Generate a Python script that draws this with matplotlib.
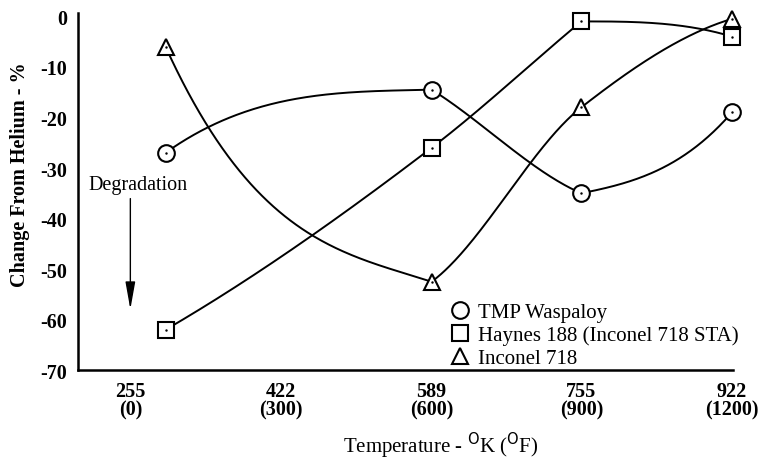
import numpy as np
import matplotlib
matplotlib.use("Agg")
import matplotlib.pyplot as plt
from matplotlib.lines import Line2D

plt.rcParams['font.family'] = ['Liberation Serif', 'DejaVu Serif']

# temperatures in K, with the matching deg F for the tick labels
tick_k = [255, 422, 589, 755, 922]
tick_f = [0, 300, 600, 900, 1200]
temps = [294, 589, 755, 922]

# change from helium, %
waspaloy = [-27, -14.5, -35, -19]
haynes = [-62, -26, -1, -4]
inconel = [-6, -52.5, -18, -0.5]

labels = ['TMP Waspaloy', 'Haynes 188 (Inconel 718 STA)', 'Inconel 718']
markers = ['o', 's', '^']


def faired_curve(x, y, xs):
    # piecewise cubic Hermite; smooth through monotone points,
    # one-sided tangents at peaks and dips like a French-curve drawing
    x = np.asarray(x, float)
    y = np.asarray(y, float)
    h = np.diff(x)
    d = np.diff(y) / h
    n = len(x)
    start = np.zeros(n - 1)
    stop = np.zeros(n - 1)

    def end(h0, h1, d0, d1):
        s = ((2 * h0 + h1) * d0 - h0 * d1) / (h0 + h1)
        if np.sign(s) != np.sign(d0):
            return 0.0
        if np.sign(d0) != np.sign(d1) and abs(s) > abs(3 * d0):
            return 3 * d0
        return s

    start[0] = end(h[0], h[1], d[0], d[1])
    stop[-1] = end(h[-1], h[-2], d[-1], d[-2])
    for k in range(1, n - 1):
        dl, dr = d[k - 1], d[k]
        if dl * dr > 0:
            w1 = 2 * h[k] + h[k - 1]
            w2 = h[k] + 2 * h[k - 1]
            m = (w1 + w2) / (w1 / dl + w2 / dr)
            stop[k - 1] = start[k] = m
        else:
            tot = dl**2 + dr**2
            stop[k - 1] = dl * dl**2 / tot
            start[k] = dr * dr**2 / tot

    out = np.empty_like(xs)
    for j, t in enumerate(xs):
        i = min(max(np.searchsorted(x, t) - 1, 0), n - 2)
        s = (t - x[i]) / h[i]
        h00 = 2 * s**3 - 3 * s**2 + 1
        h10 = s**3 - 2 * s**2 + s
        h01 = -2 * s**3 + 3 * s**2
        h11 = s**3 - s**2
        out[j] = h00 * y[i] + h10 * h[i] * start[i] + h01 * y[i + 1] + h11 * h[i] * stop[i]
    return out


fig = plt.figure(figsize=(7.65, 4.6), dpi=100)
ax = fig.add_axes([0.102, 0.193, 0.856, 0.777])

xs = np.linspace(temps[0], temps[-1], 400)
for vals, m in zip([waspaloy, haynes, inconel], markers):
    ax.plot(xs, faired_curve(temps, vals, xs), color='k', lw=1.4, zorder=2)
    ax.plot(temps, vals, linestyle='none', marker=m, markersize=12 if m != 's' else 11,
            mfc='white', mec='k', mew=1.5, zorder=3, clip_on=False)
    ax.plot(temps, vals, linestyle='none', marker='.', markersize=1.5, color='k',
            zorder=4, clip_on=False)

ax.set_xlim(197, 923)
ax.set_ylim(-70, 0.7)
ax.set_xticks(tick_k)
ax.set_xticklabels([f'{k}\n({f})' for k, f in zip(tick_k, tick_f)],
                   fontsize=14.5, fontweight='bold', linespacing=0.9)
ax.set_yticks(np.arange(-70, 1, 10))
ax.set_yticklabels([str(v) for v in np.arange(-70, 1, 10)], fontsize=14.5, fontweight='bold')
ax.tick_params(length=0, pad=8)

for s in ['top', 'right']:
    ax.spines[s].set_visible(False)
for s in ['left', 'bottom']:
    ax.spines[s].set_linewidth(1.8)

ax.text(263, -33.2, 'Degradation', ha='center', va='center', fontsize=14.5)
ax.annotate('', xy=(255, -58.5), xytext=(255, -35.5),
            arrowprops=dict(arrowstyle='-|>,head_length=1.4,head_width=0.25',
                            color='k', lw=1.0, mutation_scale=12))

handles = [Line2D([], [], linestyle='none', marker=m, markersize=12 if m != 's' else 11,
                  mfc='white', mec='k', mew=1.5) for m in markers]
ax.legend(handles, labels, loc='upper left', bbox_to_anchor=(0.568, 0.19),
          frameon=False, fontsize=15, handlelength=1.0, handletextpad=0.35,
          labelspacing=0.17, borderpad=0, borderaxespad=0)

fig.text(441 / 765, 1 - 446 / 460, 'Temperature - $^{\\rm O}$K ($^{\\rm O}$F)',
         ha='center', va='center', fontsize=15)
fig.text(20 / 765, 1 - 175 / 460, 'Change From Helium - %', rotation=90,
         ha='center', va='center', fontsize=14.5, fontweight='bold')

fig.savefig('out.png', dpi=100)
